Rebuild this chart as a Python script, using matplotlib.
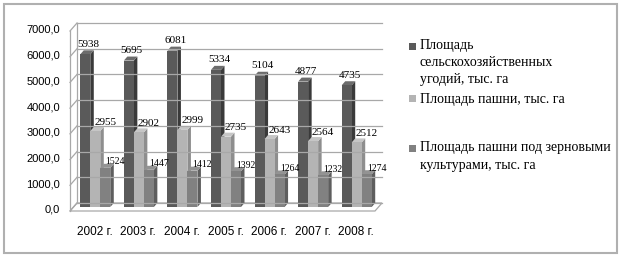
import matplotlib
matplotlib.use("Agg")
import matplotlib.pyplot as plt
from matplotlib.patches import Rectangle, Polygon

# данные
years = ['2002 г.', '2003 г.', '2004 г.', '2005 г.', '2006 г.', '2007 г.', '2008 г.']
s_ugodya = [5938, 5695, 6081, 5334, 5104, 4877, 4735]
s_pashnya = [2955, 2902, 2999, 2735, 2643, 2564, 2512]
s_zerno = [1524, 1447, 1412, 1392, 1264, 1232, 1274]
y_ticks = [0, 1000, 2000, 3000, 4000, 5000, 6000, 7000]

legend_labels = [
    ['Площадь', 'сельскохозяйственных', 'угодий, тыс. га'],
    ['Площадь пашни, тыс. га'],
    ['Площадь пашни под зерновыми', 'культурами, тыс. га'],
]

W, H = 623, 260
fig = plt.figure(figsize=(W / 100, H / 100), dpi=100)

# задняя стенка (оси) в пикселях
ax_l, ax_r, ax_b, ax_t = 77, 382, 203, 23
ax = fig.add_axes([ax_l / W, 1 - ax_b / H, (ax_r - ax_l) / W, (ax_b - ax_t) / H])
xmin, xmax = -0.5, 6.5
ymax = 7000
ax.set_xlim(xmin, xmax)
ax.set_ylim(0, ymax)
ax.axis('off')


def px_x(p):
    return p * (xmax - xmin) / (ax_r - ax_l)


def px_y(p):
    return p * ymax / (ax_b - ax_t)


grid_col = '#a8a8a8'

# линии сетки на задней стенке
for v in y_ticks:
    ax.plot([xmin, xmax], [v, v], color=grid_col, lw=0.9, clip_on=False)

# левая стенка
wx, wy = px_x(-7), px_y(-8)
ax.plot([xmin, xmin], [0, ymax], color=grid_col, lw=0.9, clip_on=False)
ax.plot([xmin + wx, xmin + wx], [wy, ymax + wy], color=grid_col, lw=0.9, clip_on=False)
for v in y_ticks:
    ax.plot([xmin + wx, xmin], [v + wy, v], color=grid_col, lw=0.9, clip_on=False)

# пол
floor = Polygon([(xmin + wx, wy), (xmax + wx, wy), (xmax, 0), (xmin, 0)],
                closed=True, facecolor='white', edgecolor=grid_col, lw=0.9, clip_on=False)
ax.add_patch(floor)

# подписи оси Y
for v in y_ticks:
    ax.text(xmin - px_x(17), v + px_y(-7), f'{v:.1f}'.replace('.', ','),
            ha='right', va='center', fontsize=8, family='Liberation Sans')

# подписи годов
for i, y in enumerate(years):
    ax.text(i + px_x(-4), px_y(-29), y, ha='center', va='center',
            fontsize=8.5, family='Liberation Sans')

# 3D столбцы
bw = px_x(10)
sx, sy = px_x(-3.5), px_y(-4)
dx, dy = px_x(3.5), px_y(4)

series = [
    (s_ugodya, -bw, ('#5a5a5a', '#3a3a3a', '#6c6c6c'), 8, (3, 10)),
    (s_pashnya, 0, ('#b4b4b4', '#8e8e8e', '#c6c6c6'), 8, (10, 9)),
    (s_zerno, bw, ('#818181', '#5e5e5e', '#939393'), 7, (10, 6)),
]

for i in range(len(years)):
    for vals, off, cols, fs, (lx, ly) in series:
        h = vals[i]
        x0 = i + off - bw / 2 + sx
        x1 = x0 + bw
        y0, y1 = sy, h + sy
        ax.add_patch(Polygon([(x1, y0), (x1, y1), (x1 + dx, y1 + dy), (x1 + dx, y0 + dy)],
                             closed=True, facecolor=cols[1], edgecolor='none', clip_on=False))
        ax.add_patch(Polygon([(x0, y1), (x1, y1), (x1 + dx, y1 + dy), (x0 + dx, y1 + dy)],
                             closed=True, facecolor=cols[2], edgecolor='none', clip_on=False))
        ax.add_patch(Rectangle((x0, y0), bw, h, facecolor=cols[0], edgecolor='none', clip_on=False))

for vals, off, cols, fs, (lx, ly) in series:
    for i, h in enumerate(vals):
        ax.text(i + off + sx + px_x(lx), h + sy + px_y(ly), str(h), ha='center', va='center',
                fontsize=fs, family='Liberation Serif')

# легенда
leg_cols = ['#5a5a5a', '#b4b4b4', '#818181']
leg_y = [46, 99, 148]
for col, y, lines in zip(leg_cols, leg_y, legend_labels):
    fig.add_artist(Rectangle((409 / W, 1 - (y + 3.5) / H), 7 / W, 7 / H,
                             transform=fig.transFigure, facecolor=col, edgecolor='none'))
    for k, line in enumerate(lines):
        fig.text(420 / W, 1 - (y + k * 17) / H, line, ha='left', va='center',
                 fontsize=10, family='Liberation Serif')

# рамка
fig.add_artist(Rectangle((4 / W, 1 - 253 / H), 613 / W, 249 / H, transform=fig.transFigure,
                         facecolor='none', edgecolor='#b0b0b0', lw=1.5))

fig.savefig('out.png', dpi=100)
